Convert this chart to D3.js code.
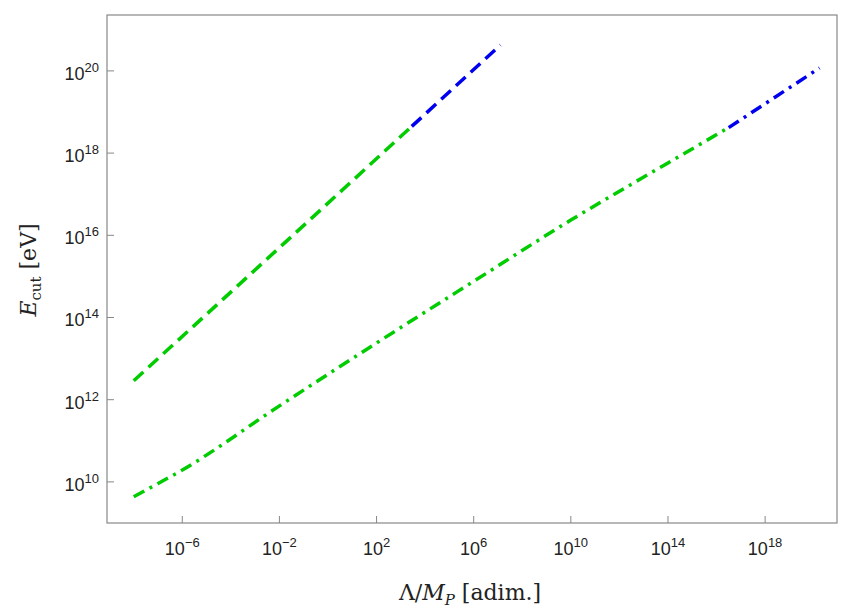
<!DOCTYPE html>
<html><head><meta charset="utf-8">
<script src="https://cdn.jsdelivr.net/npm/d3@7"></script>
<style>body{margin:0;background:#fff}</style></head>
<body><svg id="c" width="846" height="613"></svg>
<script>
// log10 values
const xTicks=[-6,-2,2,6,10,14,18];
const yTicks=[10,12,14,16,18,20];
const dashedGreen=[[-8,12.46],[-2,15.70],[3.45,18.65]];
const dashedBlue=[[3.45,18.65],[7.1,20.63]];
const dotGreen=[[-8,9.64],[-7,9.96],[-6,10.29],[-2,11.85],[2,13.38],[6,14.88],[10,16.37],[14,17.76],[16.5,18.62]];
const dotBlue=[[16.5,18.62],[20.24,20.07]];

const svg=d3.select("#c");
const L=107,R=837,T=15,B=523;
const x=d3.scaleLinear().domain([-9.1,20.96]).range([L,R]);
const y=d3.scaleLinear().domain([9.0,21.36]).range([B,T]);
svg.append("rect").attr("x",L).attr("y",T).attr("width",R-L).attr("height",B-T)
 .attr("fill","none").attr("stroke","#888").attr("stroke-width",1.2);
const g=svg.append("g").attr("font-family","Liberation Sans, Arial").attr("font-size",18).attr("fill","#222");
xTicks.forEach(v=>{
 g.append("line").attr("x1",x(v)).attr("x2",x(v)).attr("y1",B).attr("y2",B-7).attr("stroke","#888");
 const t=g.append("text").attr("x",x(v)).attr("y",B+32).attr("text-anchor","middle");
 t.append("tspan").text("10");
 t.append("tspan").attr("dy",-8).attr("font-size",13).text(v<0?"\u2212"+(-v):v);
});
yTicks.forEach(v=>{
 g.append("line").attr("x1",L).attr("x2",L+7).attr("y1",y(v)).attr("y2",y(v)).attr("stroke","#888");
 const t=g.append("text").attr("x",L-8).attr("y",y(v)+9).attr("text-anchor","end");
 t.append("tspan").text("10");
 t.append("tspan").attr("dy",-8).attr("font-size",13).text(v);
});
const line=d3.line().x(d=>x(d[0])).y(d=>y(d[1])).curve(d3.curveMonotoneX);
const draw=(d,c,dash)=>svg.append("path").datum(d).attr("d",line).attr("fill","none")
 .attr("stroke",c).attr("stroke-width",3.5).attr("stroke-dasharray",dash);
draw(dashedGreen,"#00cc00","13,7");
draw(dashedBlue,"#0000ee","13,7");
draw(dotGreen,"#00cc00","12,6,3,6");
draw(dotBlue,"#0000ee","12,6,3,6");
const lab=svg.append("g").attr("font-family","DejaVu Serif, Liberation Serif, serif").attr("font-size",22).attr("fill","#222");
const xl=lab.append("text").attr("x",470).attr("y",600).attr("text-anchor","middle");
xl.append("tspan").text("Λ/");
xl.append("tspan").attr("font-style","italic").text("M");
xl.append("tspan").attr("dy",5).attr("font-size",15).attr("font-style","italic").text("P");
xl.append("tspan").attr("dy",-5).text(" [adim.]");
const yl=lab.append("text").attr("transform","translate(36,270) rotate(-90)").attr("text-anchor","middle");
yl.append("tspan").attr("font-style","italic").text("E");
yl.append("tspan").attr("dy",5).attr("font-size",15).text("cut");
yl.append("tspan").attr("dy",-5).text(" [eV]");
</script></body></html>
